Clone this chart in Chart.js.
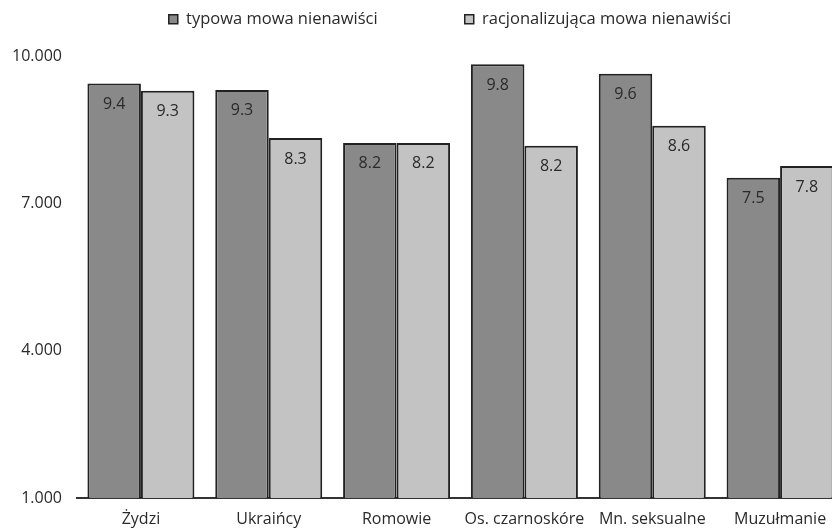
<!DOCTYPE html>
<html>
<head>
<meta charset="utf-8">
<script src="https://cdn.jsdelivr.net/npm/chart.js@4/dist/chart.umd.min.js"></script>
<style>
  html, body { margin: 0; padding: 0; background: #fff; overflow: hidden; }
  #wrap { width: 844px; height: 528px; }
</style>
</head>
<body>
<div id="wrap"><canvas id="bar-chart"></canvas></div>
<script>
// data
const categories = ["Żydzi", "Ukraińcy", "Romowie", "Os. czarnoskóre", "Mn. seksualne", "Muzułmanie"];
const typowa = [9.44, 9.31, 8.23, 9.83, 9.64, 7.52];
const racjonalizujaca = [9.29, 8.33, 8.23, 8.17, 8.58, 7.76];
const yTicks = [1, 4, 7, 10];

const FONT = "'Open Sans', sans-serif";
const TEXT = '#2a2a2a';

// values written inside the bars
const barLabels = {
  id: 'barLabels',
  afterDatasetsDraw(chart) {
    const ctx = chart.ctx;
    ctx.save();
    ctx.font = "16px " + FONT;
    ctx.fillStyle = TEXT;
    ctx.textAlign = 'center';
    ctx.textBaseline = 'middle';
    chart.data.datasets.forEach((ds, i) => {
      chart.getDatasetMeta(i).data.forEach((bar, j) => {
        ctx.fillText(ds.data[j].toFixed(1), bar.x, bar.y + 21);
      });
    });
    ctx.restore();
  }
};

// room under the legend, and legend nudged right like the original
const legendSpace = {
  id: 'legendSpace',
  beforeInit(chart) {
    const lg = chart.legend;
    const fit = lg.fit;
    lg.fit = function () {
      fit.call(this);
      this.height = 56;
    };
    const draw = lg.draw;
    lg.draw = function () {
      chart.ctx.save();
      chart.ctx.translate(28, 1);
      draw.call(this);
      chart.ctx.restore();
    };
  }
};

new Chart(document.getElementById("bar-chart"), {
  type: 'bar',
  data: {
    labels: categories,
    datasets: [
      {
        label: "typowa mowa nienawiści",
        data: typowa,
        backgroundColor: '#898989',
        borderColor: '#222',
        borderWidth: 2
      },
      {
        label: "racjonalizująca mowa nienawiści",
        data: racjonalizujaca,
        backgroundColor: '#c3c3c3',
        borderColor: '#222',
        borderWidth: 2
      }
    ]
  },
  options: {
    responsive: true,
    maintainAspectRatio: false,
    animation: false,
    layout: { padding: 0 },
    datasets: {
      bar: { categoryPercentage: 0.837, barPercentage: 1 }
    },
    plugins: {
      tooltip: { enabled: false },
      legend: {
        display: true,
        position: 'top',
        labels: {
          color: TEXT,
          font: { family: FONT, size: 16.5 },
          boxWidth: 9,
          boxHeight: 9,
          padding: 10,
          generateLabels(chart) {
            const items = Chart.defaults.plugins.legend.labels.generateLabels(chart);
            items[0].text += ' '.repeat(18);
            items.forEach(it => { it.lineWidth = 1.5; });
            return items;
          }
        }
      }
    },
    scales: {
      x: {
        grid: { display: false, drawTicks: false },
        border: { display: true, color: '#333', width: 2 },
        afterFit(scale) { scale.height = 30; },
        ticks: {
          color: TEXT,
          padding: 12,
          font: { family: FONT, size: 16 }
        }
      },
      y: {
        min: 1,
        max: 10,
        grid: { display: false, drawTicks: false },
        border: { display: false },
        afterFit(scale) { scale.width = 77; },
        afterBuildTicks(scale) { scale.ticks = yTicks.map(v => ({ value: v })); },
        ticks: {
          color: TEXT,
          padding: 15,
          font: { family: FONT, size: 16 },
          callback: v => v.toFixed(3)
        }
      }
    }
  },
  plugins: [barLabels, legendSpace]
});
</script>
</body>
</html>
